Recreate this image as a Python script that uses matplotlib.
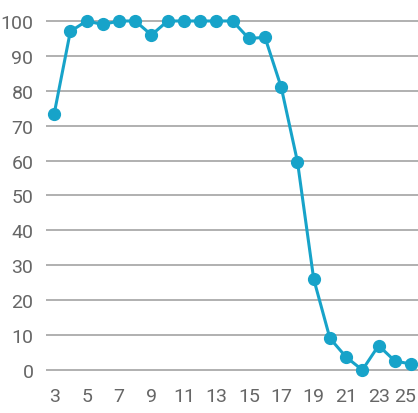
import matplotlib.pyplot as plt
from matplotlib.transforms import ScaledTranslation

x_values = list(range(3, 26))
y_values = [73.3, 97, 100, 99, 100, 100, 96, 100, 100, 100, 100, 100,
            95, 95.3, 81, 59.7, 26.1, 9.1, 3.7, 0, 7, 2.6, 1.7]
x_ticks = list(range(3, 26, 2))
y_ticks = list(range(0, 101, 10))

line_color = '#17a3c9'

fig = plt.figure(figsize=(4.18, 4.14), dpi=100)
ax = fig.add_axes([46 / 418, 34 / 414, 372 / 418, 380 / 414])

# lineas de la cuadricula
for y in y_ticks:
    ax.axhline(y, color='#b0b0b0', linewidth=1.4, zorder=1)

ax.plot(x_values, y_values, color=line_color, linewidth=2.2,
        marker='o', markersize=8.5, zorder=3, clip_on=False)

ax.set_xlim(2.5, 25.43)
ax.set_ylim(-2.58, 106.3)
ax.set_xticks(x_ticks)
ax.set_yticks(y_ticks)

for s in ax.spines.values():
    s.set_visible(False)

ax.tick_params(axis='both', length=0, labelsize=14, labelcolor='#666666')
ax.tick_params(axis='y', pad=9)
ax.tick_params(axis='x', pad=6)
for lbl in ax.get_xticklabels() + ax.get_yticklabels():
    lbl.set_fontfamily('Roboto')

# la ultima etiqueta queda pegada al borde
last = ax.get_xticklabels()[-1]
last.set_transform(last.get_transform() +
                   ScaledTranslation(-6 / 100, 0, fig.dpi_scale_trans))

fig.savefig('out.png', dpi=100)
